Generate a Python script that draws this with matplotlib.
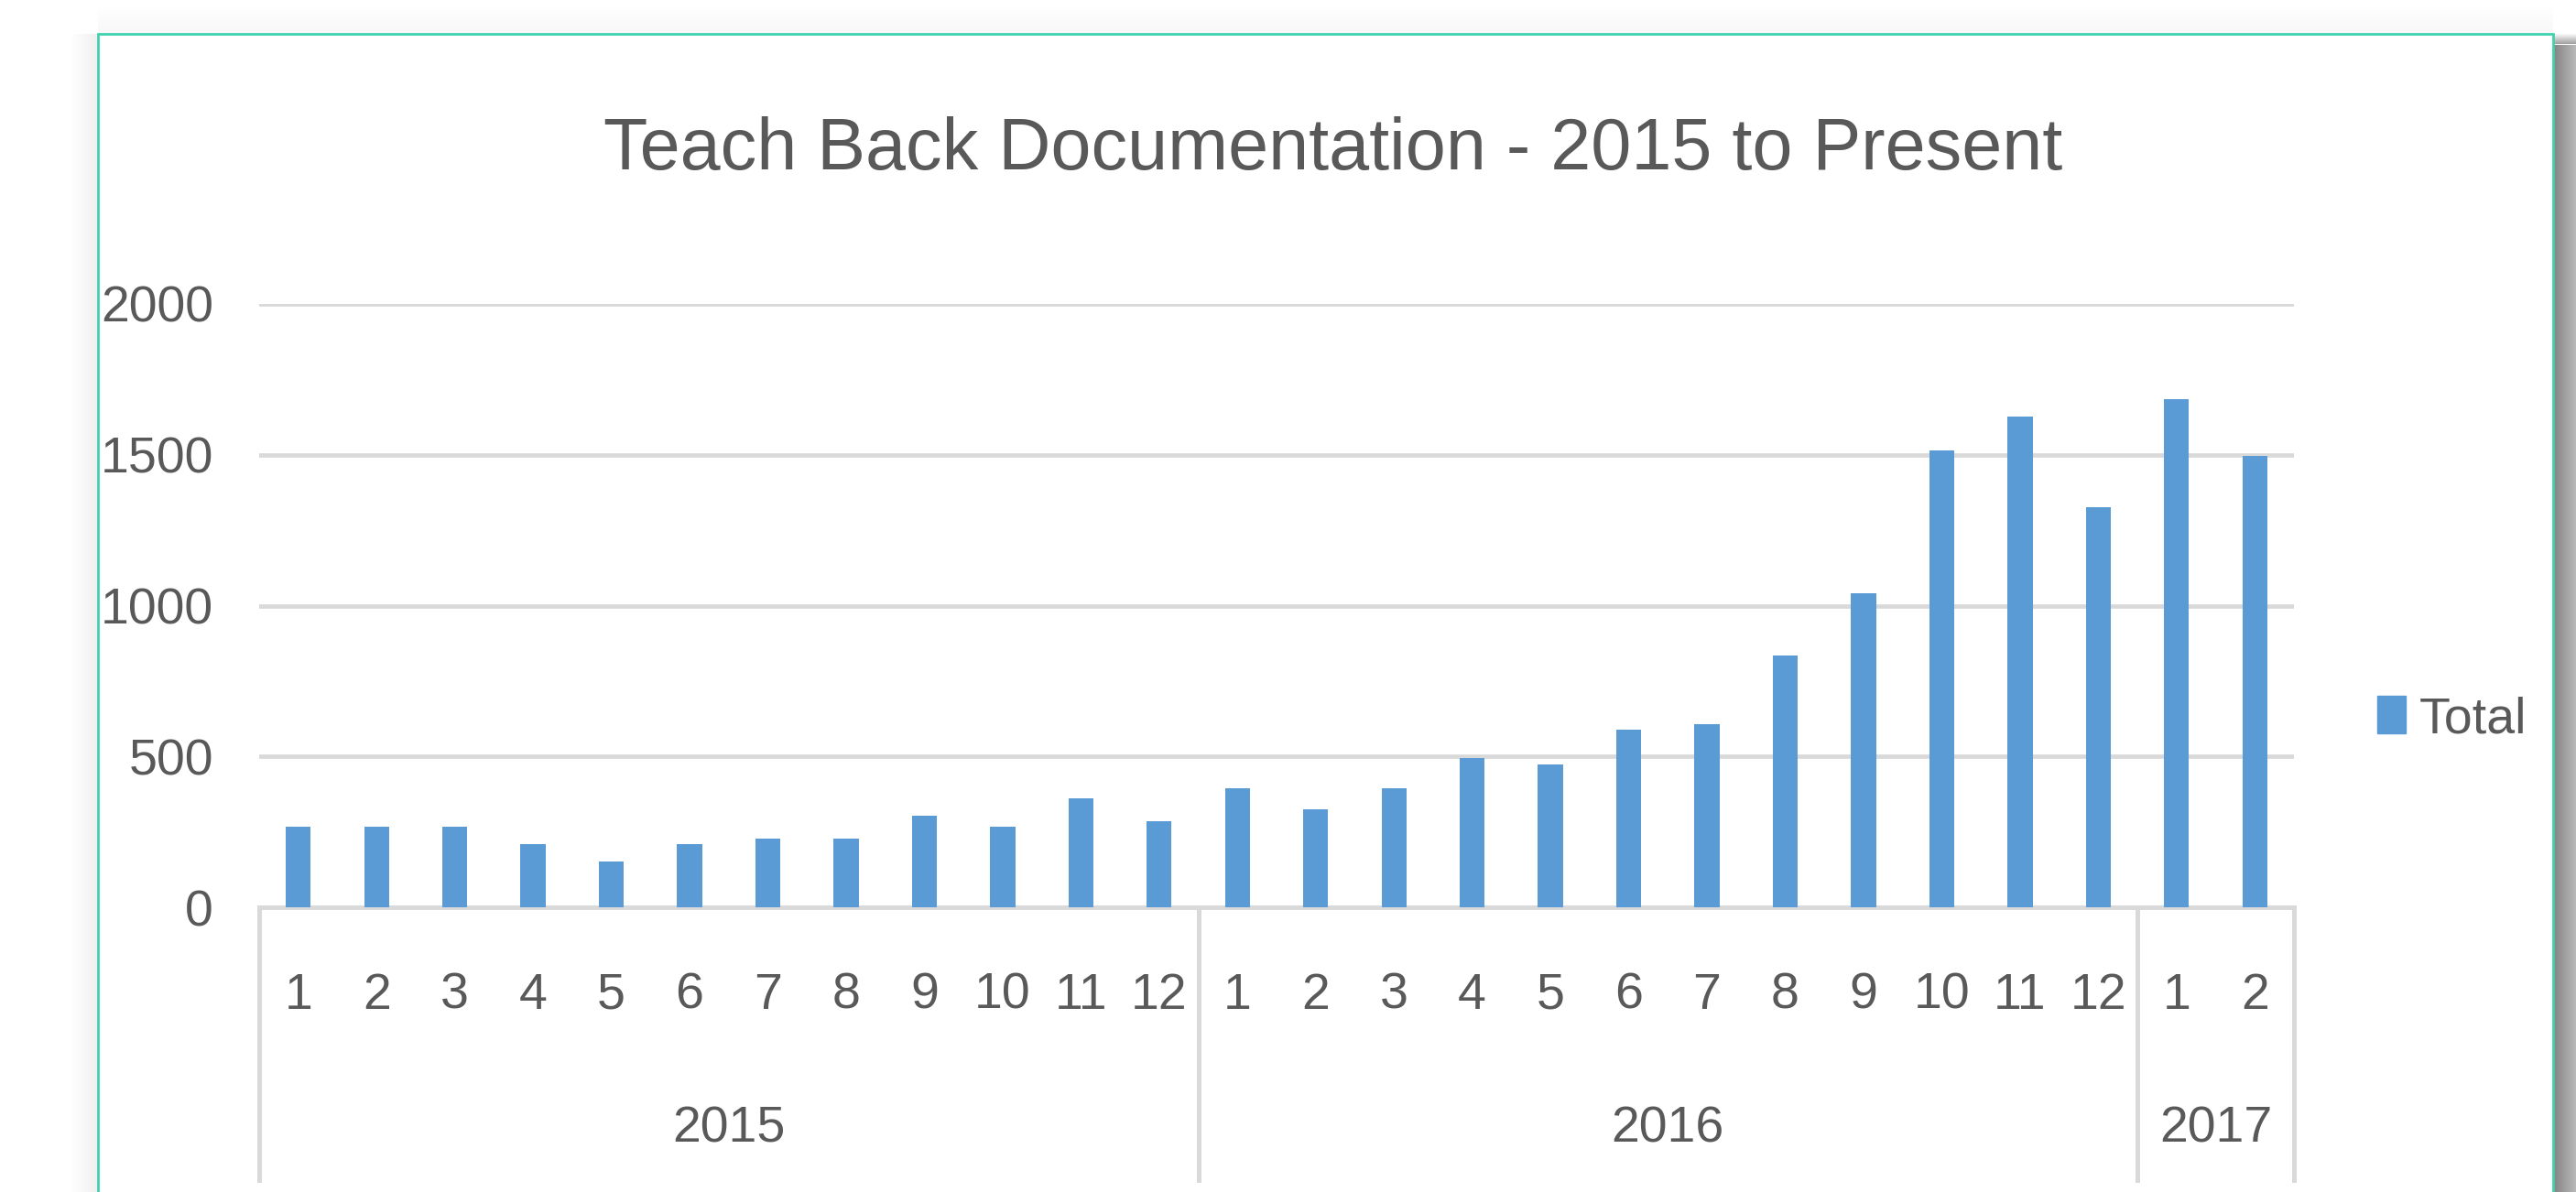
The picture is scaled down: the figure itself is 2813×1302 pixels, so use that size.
import matplotlib.pyplot as plt
from matplotlib.patches import Rectangle
from matplotlib.lines import Line2D
from matplotlib import transforms
import numpy as np

# -------------------------------------------------
# Data
# -------------------------------------------------
years = ["2015", "2016", "2017"]
months_2015 = [1, 2, 3, 4, 5, 6, 7, 8, 9, 10, 11, 12]
months_2016 = [1, 2, 3, 4, 5, 6, 7, 8, 9, 10, 11, 12]
months_2017 = [1, 2]
totals_2015 = [268, 268, 268, 209, 151, 209, 228, 228, 304, 268, 361, 285]
totals_2016 = [396, 325, 396, 495, 473, 590, 606, 836, 1042, 1513, 1627, 1327]
totals_2017 = [1685, 1496]
y_ticks = [0, 500, 1000, 1500, 2000]

month_groups = [months_2015, months_2016, months_2017]

months = months_2015 + months_2016 + months_2017
totals = totals_2015 + totals_2016 + totals_2017

# -------------------------------------------------
# Style
# -------------------------------------------------
W, H = 2813, 1302
BAR = "#5B9BD5"
TXT = "#595959"
GRID = "#D9D9D9"
FS = 40
plt.rcParams["font.family"] = ["Liberation Sans", "DejaVu Sans"]

fig = plt.figure(figsize=(W / 100, H / 100), dpi=100)

# drop shadow round the chart frame
n = 25
for i in range(n):
    a = 0.48 - 0.22 * i / n
    top = 1 - (37 + 12) / H
    fig.patches.append(Rectangle(((2789 + i) / W, 0), 1.05 / W, top,
                                 transform=fig.transFigure, color="k", alpha=a,
                                 lw=0, zorder=0))
for j in range(12):
    fig.patches.append(Rectangle((2789 / W, 1 - (37 + j) / H), 24 / W, 1.05 / H,
                                 transform=fig.transFigure, color="k",
                                 alpha=0.4 * j / 12, lw=0, zorder=0))
for i in range(30):
    a = 0.06 * (1 - i / 30)
    fig.patches.append(Rectangle(((106 - i) / W, 0), 1.05 / W, 1 - 37 / H,
                                 transform=fig.transFigure, color="k", alpha=a,
                                 lw=0, zorder=0))
    fig.patches.append(Rectangle((107 / W, 1 - (36 - i) / H), (2788 - 107) / W, 1.05 / H,
                                 transform=fig.transFigure, color="k", alpha=a * 0.5,
                                 lw=0, zorder=0))
# chart frame
fig.patches.append(Rectangle((107 / W, -0.01), (2788 - 107) / W, 1 - 37 / H + 0.01,
                             transform=fig.transFigure, facecolor="white",
                             edgecolor="#3ED3AE", lw=2, zorder=1))

# -------------------------------------------------
# Axes
# -------------------------------------------------
x0, x1 = 283, 2505
y_top, y_zero = 332, 991
ax = fig.add_axes([x0 / W, 1 - y_zero / H, (x1 - x0) / W, (y_zero - y_top) / H])
ax.set_facecolor("none")
ax.set_zorder(2)

x = np.arange(len(totals))
ax.bar(x, totals, width=0.32, color=BAR, zorder=3)

ax.set_xlim(-0.5, len(totals) - 0.5)
ax.set_ylim(0, 2000)
ax.set_yticks(y_ticks)
ax.set_yticklabels([str(v) for v in y_ticks])
ax.grid(axis="y", color=GRID, lw=3.4, zorder=0)
ax.set_axisbelow(True)
for s in ["top", "right", "left"]:
    ax.spines[s].set_visible(False)
ax.spines["bottom"].set_color(GRID)
ax.spines["bottom"].set_linewidth(3.6)

ax.set_xticks(x)
ax.set_xticklabels([str(m) for m in months])
ax.tick_params(axis="x", length=0, pad=51, labelsize=FS, labelcolor=TXT)
ax.tick_params(axis="y", length=0, pad=36, labelsize=FS, labelcolor=TXT)

# year level of the category axis
trans = transforms.blended_transform_factory(ax.transData, ax.transAxes)
sep_bottom = -(1289 - y_zero) / (y_zero - y_top)
pos = -0.5
for yr, grp in zip(years, month_groups):
    ax.add_line(Line2D([pos, pos], [0, sep_bottom], transform=trans, color=GRID,
                       lw=3.6, clip_on=False))
    ax.text(pos + len(grp) / 2, -(1233 - y_zero) / (y_zero - y_top), yr,
            transform=trans, ha="center", va="center", fontsize=FS, color=TXT)
    pos += len(grp)
ax.add_line(Line2D([pos, pos], [0, sep_bottom], transform=trans, color=GRID,
                   lw=3.6, clip_on=False))

# -------------------------------------------------
# Title and legend
# -------------------------------------------------
fig.text(1456 / W, 1 - 165 / H, "Teach Back Documentation - 2015 to Present",
         ha="center", va="center", fontsize=57, color=TXT)

handle = Rectangle((0, 0), 1, 1, color=BAR)
fig.legend([handle], ["Total"], loc="center left",
           bbox_to_anchor=(2596 / W, 1 - 786 / H), frameon=False,
           borderaxespad=0, borderpad=0,
           fontsize=FS, labelcolor=TXT, handlelength=0.56, handleheight=0.75,
           handletextpad=0.27)

fig.savefig("out.png", dpi=100, facecolor="white")
